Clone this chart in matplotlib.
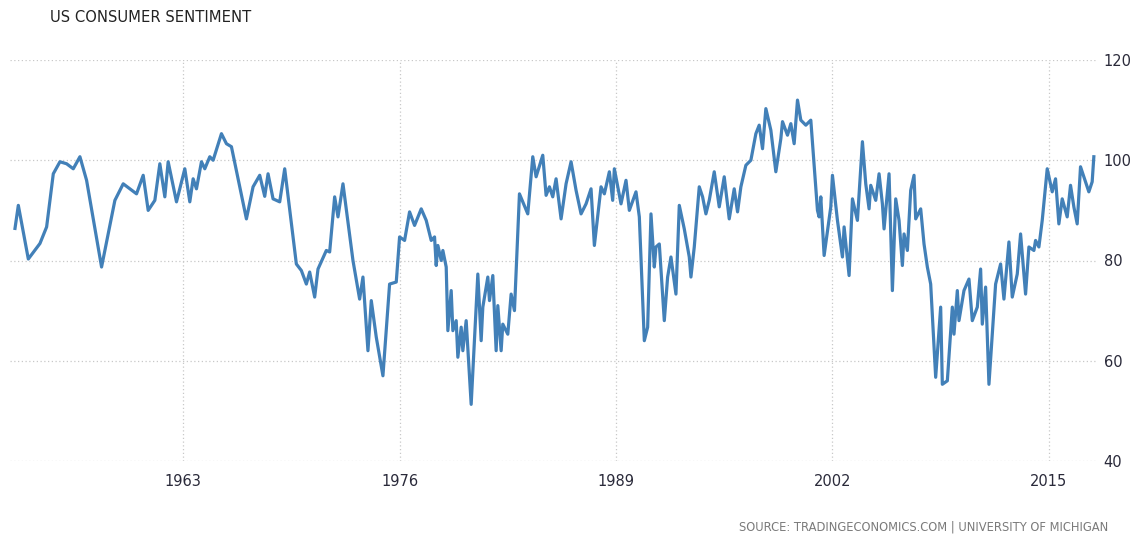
import matplotlib
matplotlib.use("Agg")
import matplotlib.pyplot as plt

title = "US CONSUMER SENTIMENT"
source = "SOURCE: TRADINGECONOMICS.COM | UNIVERSITY OF MICHIGAN"

years = [
    1952.9, 1953.1, 1953.7, 1954.4, 1954.8, 1955.2, 1955.6, 1956.0, 1956.4, 1956.8,
    1957.2, 1958.1, 1958.9, 1959.4, 1960.2, 1960.6, 1960.9, 1961.3, 1961.6, 1961.9,
    1962.1, 1962.6, 1963.1, 1963.4, 1963.6, 1963.8, 1964.1, 1964.3, 1964.6, 1964.8,
    1965.3, 1965.6, 1965.9, 1966.8, 1967.2, 1967.6, 1967.9, 1968.1, 1968.4, 1968.8,
    1969.1, 1969.8, 1970.1, 1970.4, 1970.6, 1970.9, 1971.1, 1971.6, 1971.8, 1972.1,
    1972.3, 1972.6, 1973.2, 1973.6, 1973.8, 1974.1, 1974.3, 1974.6, 1975.0, 1975.4,
    1975.8, 1976.0, 1976.3, 1976.6, 1976.9, 1977.3, 1977.6, 1977.9, 1978.1, 1978.2,
    1978.3, 1978.5, 1978.6, 1978.8, 1978.9, 1979.1, 1979.2, 1979.4, 1979.5, 1979.7,
    1979.8, 1980.0, 1980.3, 1980.7, 1980.9, 1981.0, 1981.3, 1981.4, 1981.6, 1981.8,
    1981.9, 1982.1, 1982.2, 1982.5, 1982.7, 1982.9, 1983.2, 1983.7, 1984.0, 1984.2,
    1984.6, 1984.8, 1985.0, 1985.2, 1985.4, 1985.7, 1986.0, 1986.3, 1986.6, 1986.9,
    1987.2, 1987.5, 1987.7, 1988.1, 1988.3, 1988.6, 1988.8, 1988.9, 1989.3, 1989.6,
    1989.8, 1990.2, 1990.4, 1990.7, 1990.9, 1991.1, 1991.3, 1991.4, 1991.6, 1991.9,
    1992.1, 1992.3, 1992.6, 1992.8, 1993.1, 1993.4, 1993.5, 1993.7, 1994.0, 1994.2,
    1994.4, 1994.6, 1994.9, 1995.2, 1995.5, 1995.8, 1996.1, 1996.3, 1996.5, 1996.8,
    1997.1, 1997.4, 1997.6, 1997.8, 1998.0, 1998.3, 1998.6, 1998.9, 1999.0, 1999.3,
    1999.5, 1999.7, 1999.9, 2000.1, 2000.4, 2000.7, 2001.1, 2001.2, 2001.3, 2001.5,
    2001.9, 2002.0, 2002.3, 2002.6, 2002.7, 2003.0, 2003.2, 2003.5, 2003.8, 2004.0,
    2004.2, 2004.3, 2004.6, 2004.8, 2005.0, 2005.1, 2005.4, 2005.6, 2005.8, 2006.0,
    2006.2, 2006.3, 2006.5, 2006.7, 2006.9, 2007.0, 2007.3, 2007.5, 2007.7, 2007.9,
    2008.2, 2008.5, 2008.6, 2008.9, 2009.2, 2009.3, 2009.5, 2009.6, 2009.9, 2010.2,
    2010.4, 2010.7, 2010.9, 2011.0, 2011.2, 2011.4, 2011.8, 2012.1, 2012.3, 2012.6,
    2012.8, 2013.1, 2013.3, 2013.6, 2013.8, 2014.1, 2014.2, 2014.4, 2014.6, 2014.9,
    2015.2, 2015.4, 2015.6, 2015.8, 2016.1, 2016.3, 2016.5, 2016.7, 2016.9, 2017.1,
    2017.4, 2017.6, 2017.7,
]
sentiment = [
    86.4, 91.0, 80.3, 83.4, 86.7, 97.3, 99.7, 99.3, 98.3, 100.7,
    96.0, 78.7, 92.0, 95.3, 93.3, 97.0, 90.0, 92.0, 99.3, 92.7,
    99.7, 91.7, 98.3, 91.7, 96.3, 94.3, 99.7, 98.3, 100.7, 100.0,
    105.3, 103.3, 102.7, 88.3, 94.7, 97.0, 92.8, 97.3, 92.3, 91.7,
    98.3, 79.3, 78.0, 75.3, 77.7, 72.7, 78.3, 82.0, 81.7, 92.7,
    88.7, 95.3, 80.0, 72.3, 76.7, 62.0, 72.0, 64.7, 57.0, 75.3,
    75.7, 84.7, 84.0, 89.7, 87.0, 90.3, 88.0, 84.0, 84.7, 79.0,
    83.0, 80.0, 82.0, 78.7, 66.0, 74.0, 66.0, 68.0, 60.7, 66.7,
    62.0, 68.0, 51.3, 77.3, 64.0, 70.7, 76.7, 72.0, 77.0, 62.0,
    71.0, 62.0, 67.3, 65.3, 73.3, 70.0, 93.3, 89.3, 100.7, 96.7,
    101.0, 93.0, 94.7, 92.7, 96.3, 88.3, 95.3, 99.7, 94.0, 89.3,
    91.3, 94.3, 83.0, 94.7, 93.3, 97.7, 92.0, 98.3, 91.3, 96.0,
    90.0, 93.7, 88.7, 64.0, 66.7, 89.3, 78.7, 82.7, 83.3, 68.0,
    76.7, 80.7, 73.3, 91.0, 86.3, 80.7, 76.7, 82.7, 94.7, 92.7,
    89.3, 92.0, 97.7, 90.7, 96.7, 88.3, 94.3, 89.7, 94.7, 99.0,
    100.0, 105.3, 107.0, 102.3, 110.3, 106.0, 97.7, 104.3, 107.7, 105.0,
    107.3, 103.3, 112.0, 108.0, 107.0, 108.0, 90.0, 88.7, 92.7, 81.0,
    90.7, 97.0, 88.0, 80.7, 86.7, 77.0, 92.3, 88.0, 103.7, 95.3,
    90.3, 95.0, 92.0, 97.3, 91.3, 86.3, 97.3, 74.0, 92.3, 88.0,
    79.0, 85.3, 82.0, 94.0, 97.0, 88.3, 90.3, 83.3, 78.7, 75.3,
    56.7, 70.7, 55.3, 56.0, 70.7, 65.3, 74.0, 68.0, 74.0, 76.3,
    68.0, 70.7, 78.3, 67.3, 74.7, 55.3, 75.3, 79.3, 72.3, 83.7,
    72.7, 77.3, 85.3, 73.3, 82.7, 82.0, 84.0, 82.7, 88.0, 98.3,
    93.7, 96.3, 87.3, 92.3, 88.7, 95.0, 90.7, 87.3, 98.7, 96.7,
    93.7, 95.7, 100.7,
]
x_ticks = [1963, 1976, 1989, 2002, 2015]
y_ticks = [40, 60, 80, 100, 120]

W, H = 1133, 537
fig = plt.figure(figsize=(W / 100, H / 100), dpi=100)
ax = fig.add_axes([10 / W, 1 - 461 / H, (1098 - 10) / W, (461 - 60) / H])

ax.plot(years, sentiment, color="#4280b8", linewidth=2.3, solid_joinstyle="round")
ax.set_xlim(1952.6, 2017.95)
ax.set_ylim(40, 120)
ax.set_xticks(x_ticks)
ax.set_yticks(y_ticks)
ax.yaxis.tick_right()
for s in ax.spines.values():
    s.set_visible(False)
ax.grid(True, color="#c8c8c8", linestyle=(0, (1, 2)), linewidth=0.9)
ax.tick_params(axis="both", length=0, colors="#2a2a3a", labelsize=10.5)
ax.tick_params(axis="x", pad=9)
ax.tick_params(axis="y", pad=4)

fig.text(50 / W, 1 - 18 / H, title, fontsize=10.6, color="#222222",
         va="center", ha="left")
fig.text(1108 / W, 1 - 527 / H, source, fontsize=8.3, color="#7a7a7a",
         va="center", ha="right")

fig.savefig("out.png", dpi=100)
